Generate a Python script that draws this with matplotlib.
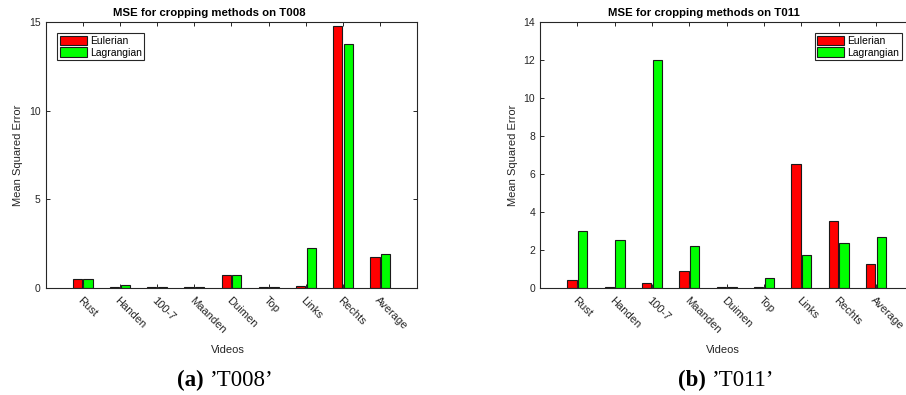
import matplotlib.pyplot as plt
import matplotlib.transforms as mtransforms
import numpy as np

plt.rcParams['font.family'] = ['Liberation Sans', 'DejaVu Sans']

videos = ['Rust', 'Handen', '100-7', 'Maanden', 'Duimen', 'Top', 'Links', 'Rechts', 'Average']

# MSE per video, T008
t008_eulerian = [0.49, 0.04, 0.04, 0.03, 0.72, 0.04, 0.11, 14.77, 1.77]
t008_lagrangian = [0.49, 0.19, 0.04, 0.03, 0.73, 0.04, 2.24, 13.76, 1.94]

# MSE per video, T011
t011_eulerian = [0.40, 0.04, 0.25, 0.90, 0.04, 0.04, 6.51, 3.54, 1.28]
t011_lagrangian = [2.99, 2.51, 12.01, 2.22, 0.04, 0.55, 1.76, 2.39, 2.71]


def mse_bars(fig, ax, eulerian, lagrangian, title, ymax, yticks, legend_loc, legend_anchor):
    x = np.arange(1, len(videos) + 1)
    width = 0.245
    off = 0.143
    ax.bar(x - off, eulerian, width, color='#ff0000', edgecolor='#1a1a1a',
           linewidth=0.8, label='Eulerian')
    ax.bar(x + off, lagrangian, width, color='#00ff00', edgecolor='#1a1a1a',
           linewidth=0.8, label='Lagrangian')

    ax.set_xlim(0, 10)
    ax.set_ylim(0, ymax)
    ax.set_yticks(yticks)
    ax.set_xticks(x)
    ax.set_xticklabels(videos, rotation=-45, ha='left', va='top',
                       rotation_mode='anchor', fontsize=8, color='#262626')
    # nudge rotated labels a little to the left of their ticks
    shift = mtransforms.ScaledTranslation(-6 / 72, 0, fig.dpi_scale_trans)
    for lbl in ax.get_xticklabels():
        lbl.set_transform(lbl.get_transform() + shift)
    ax.tick_params(axis='both', direction='in', top=True, right=True,
                   length=3, width=0.7, colors='#262626', labelsize=7.5)
    ax.tick_params(axis='x', pad=5, labelsize=8)
    for s in ax.spines.values():
        s.set_linewidth(0.8)
        s.set_color('#262626')

    ax.set_title(title, fontsize=8.2, fontweight='bold', x=0.44, pad=4)
    ax.set_xlabel('Videos', fontsize=8, color='#262626', x=0.49, labelpad=7)
    ax.set_ylabel('Mean Squared Error', fontsize=8, color='#262626', labelpad=4)

    leg = ax.legend(loc=legend_loc, bbox_to_anchor=legend_anchor, fontsize=7.5,
                    fancybox=False, framealpha=1, edgecolor='#262626',
                    handlelength=2.6, handleheight=1.0, handletextpad=0.3,
                    borderpad=0.25, labelspacing=0.15, borderaxespad=0)
    leg.get_frame().set_linewidth(0.8)


fig = plt.figure(figsize=(9.06, 3.95), dpi=100)

ax1 = fig.add_axes([45.5 / 906, 107 / 395, 372 / 906, 266 / 395])
mse_bars(fig, ax1, t008_eulerian, t008_lagrangian, 'MSE for cropping methods on T008',
         15, [0, 5, 10, 15], 'upper left', (0.031, 0.959))

ax2 = fig.add_axes([540 / 906, 107 / 395, 373.3 / 906, 266 / 395])
mse_bars(fig, ax2, t011_eulerian, t011_lagrangian, 'MSE for cropping methods on T011',
         14, np.arange(0, 15, 2), 'upper right', (0.97, 0.959))

# subfigure captions: bold letter, regular name
for cx, tag, name in [(205, '(a)', '\u2019T008\u2019'), (707, '(b)', '\u2019T011\u2019')]:
    fig.text(cx / 906 - 0.001, 1 - 380 / 395, tag, ha='right', va='center',
             fontsize=16.5, family='Liberation Serif', fontweight='bold')
    fig.text(cx / 906 + 0.006, 1 - 380 / 395, name, ha='left', va='center',
             fontsize=16.5, family='Liberation Serif')

fig.savefig('out.png', dpi=100)
